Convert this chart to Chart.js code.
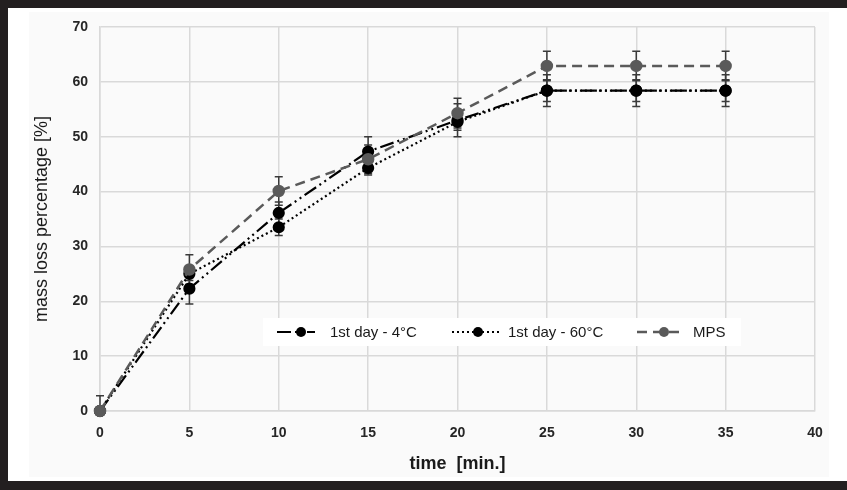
<!DOCTYPE html>
<html>
<head>
<meta charset="utf-8">
<script src="https://cdn.jsdelivr.net/npm/chart.js@4.4.1/dist/chart.umd.min.js"></script>
<style>
  html, body { margin: 0; padding: 0; background: #ffffff; }
  #frame {
    position: absolute; left: 0; top: 0; width: 839px; height: 473px;
    border-top: 8px solid #231f20; border-left: 8px solid #231f20; border-bottom: 9px solid #231f20;
    background: #ffffff;
  }
  #panel { position: absolute; left: 29px; top: 12px; width: 800px; height: 465px; background: #fafafa; }
  #wrap { position: absolute; left: 0; top: 0; width: 847px; height: 490px; }
</style>
</head>
<body>
<div id="frame"></div>
<div id="panel"></div>
<div id="wrap"><canvas id="line"></canvas></div>
<script>
// time [min.]
const times = [0, 5, 10, 15, 20, 25, 30, 35];

// mass loss percentage [%]
const day1_4C = [0, 22.3, 36.1, 47.3, 53.0, 58.4, 58.4, 58.4];
const day1_60C = [0, 25.0, 33.5, 44.3, 52.7, 58.4, 58.4, 58.4];
const mps = [0, 25.8, 40.1, 45.9, 54.3, 62.9, 62.9, 62.9];

// error bar half-widths
const err_4C = [0, 2.8, 2.0, 2.7, 3.0, 2.9, 2.9, 2.9];
const err_60C = [0, 1.2, 1.5, 1.3, 1.5, 2.0, 2.0, 2.0];
const err_mps = [2.8, 2.7, 2.6, 2.6, 2.7, 2.7, 2.7, 2.7];

const yTicks = [0, 10, 20, 30, 40, 50, 60, 70];
const xTicks = [0, 5, 10, 15, 20, 25, 30, 35, 40];

const narrow = "'Liberation Sans Narrow', 'Liberation Sans', Arial, sans-serif";

const toPoints = (ys) => times.map((t, i) => ({ x: t, y: ys[i] }));

// error bars drawn through the scales (clipped to the plot area)
const errorBars = {
  id: 'errorBars',
  beforeDatasetsDraw(chart) {
    const { ctx, chartArea: a, scales: { x, y } } = chart;
    ctx.save();
    ctx.beginPath();
    ctx.rect(a.left - 6, a.top, a.right - a.left + 12, a.bottom - a.top);
    ctx.clip();
    ctx.strokeStyle = '#3a3a3a';
    ctx.lineWidth = 1.5;
    ctx.setLineDash([]);
    chart.data.datasets.forEach((ds) => {
      ds.data.forEach((p, i) => {
        const e = ds.errors[i];
        if (!e) return;
        const px = x.getPixelForValue(p.x);
        const top = y.getPixelForValue(p.y + e);
        const bot = y.getPixelForValue(p.y - e);
        ctx.beginPath();
        ctx.moveTo(px, top); ctx.lineTo(px, bot);
        ctx.moveTo(px - 4, top); ctx.lineTo(px + 4, top);
        ctx.moveTo(px - 4, bot); ctx.lineTo(px + 4, bot);
        ctx.stroke();
      });
    });
    ctx.restore();
  }
};

// legend box inside the plot area
const insideLegend = {
  id: 'insideLegend',
  afterDatasetsDraw(chart) {
    const { ctx, chartArea: a } = chart;
    const bx = a.left + 163, by = a.top + 291, bw = 478, bh = 28;
    ctx.save();
    ctx.fillStyle = '#ffffff';
    ctx.fillRect(bx, by, bw, bh);
    const cy = by + bh / 2;
    const items = [
      { ds: 0, x0: bx + 14, x1: bx + 52, mk: bx + 38, tx: bx + 67 },
      { ds: 1, x0: bx + 189, x1: bx + 237, mk: bx + 215, tx: bx + 245 },
      { ds: 2, x0: bx + 374, x1: bx + 420, mk: bx + 401, tx: bx + 430 }
    ];
    items.forEach((it) => {
      const ds = chart.data.datasets[it.ds];
      ctx.strokeStyle = ds.borderColor;
      ctx.lineWidth = ds.borderWidth;
      ctx.setLineDash(ds.borderDash);
      ctx.beginPath();
      ctx.moveTo(it.x0, cy); ctx.lineTo(it.x1, cy);
      ctx.stroke();
      ctx.setLineDash([]);
      ctx.fillStyle = ds.pointBackgroundColor;
      ctx.beginPath();
      ctx.arc(it.mk, cy, 5, 0, Math.PI * 2);
      ctx.fill();
      ctx.fillStyle = '#1a1a1a';
      ctx.font = "15px 'Liberation Sans', Arial, sans-serif";
      ctx.textBaseline = 'middle';
      ctx.fillText(ds.label, it.tx, cy + 1);
    });
    ctx.restore();
  }
};

const lineConfig = {
  type: 'line',
  data: {
    datasets: [
      {
        label: '1st day - 4°C',
        data: toPoints(day1_4C),
        errors: err_4C,
        order: 1,
        clip: 8,
        borderColor: '#000000',
        pointBackgroundColor: '#000000',
        pointBorderColor: '#000000',
        borderWidth: 2.2,
        borderDash: [14, 4, 2, 4, 2, 4],
        pointRadius: 5,
        fill: false,
      },
      {
        label: '1st day - 60°C',
        data: toPoints(day1_60C),
        errors: err_60C,
        order: 2,
        clip: 8,
        borderColor: '#000000',
        pointBackgroundColor: '#000000',
        pointBorderColor: '#000000',
        borderWidth: 2.2,
        borderDash: [2, 3],
        pointRadius: 5,
        fill: false,
      },
      {
        label: 'MPS',
        data: toPoints(mps),
        errors: err_mps,
        order: 0,
        clip: 8,
        borderColor: '#5a5a5a',
        pointBackgroundColor: '#5a5a5a',
        pointBorderColor: '#5a5a5a',
        borderWidth: 2.5,
        borderDash: [10, 6],
        pointRadius: 5,
        fill: false,
      },
    ],
  },
  options: {
    responsive: false,
    animation: false,
    layout: { padding: { left: 0, top: 27, right: 32, bottom: 0 } },
    plugins: {
      legend: { display: false },
      tooltip: { enabled: false },
    },
    scales: {
      x: {
        type: 'linear',
        min: 0,
        max: 40,
        afterFit: (s) => { s.height = 79; },
        afterBuildTicks: (s) => { s.ticks = xTicks.map((v) => ({ value: v })); },
        grid: { color: '#d9d9d9', lineWidth: 1.5, drawTicks: false },
        border: { color: '#d9d9d9', width: 1.5 },
        ticks: { padding: 14, color: '#262626', font: { family: narrow, size: 14, weight: 'bold' } },
        title: {
          display: true,
          text: 'time  [min.]',
          color: '#1a1a1a',
          padding: { top: 0, bottom: 15 },
          font: { family: narrow, size: 18, weight: 'bold' },
        },
      },
      y: {
        min: 0,
        max: 70,
        afterFit: (s) => { s.width = 100; },
        afterBuildTicks: (s) => { s.ticks = yTicks.map((v) => ({ value: v })); },
        grid: { color: '#d9d9d9', lineWidth: 1.5, drawTicks: false },
        border: { color: '#d9d9d9', width: 1.5 },
        ticks: { padding: 12, color: '#262626', font: { family: narrow, size: 14, weight: 'bold' } },
        title: {
          display: true,
          text: 'mass loss percentage [%]',
          color: '#1a1a1a',
          padding: { top: 31, bottom: 0 },
          font: { family: narrow, size: 18 },
        },
      },
    },
  },
  plugins: [errorBars, insideLegend],
};

const canvas = document.getElementById('line');
canvas.width = 847;
canvas.height = 490;
window.myLine = new Chart(canvas, lineConfig);
</script>
</body>
</html>
